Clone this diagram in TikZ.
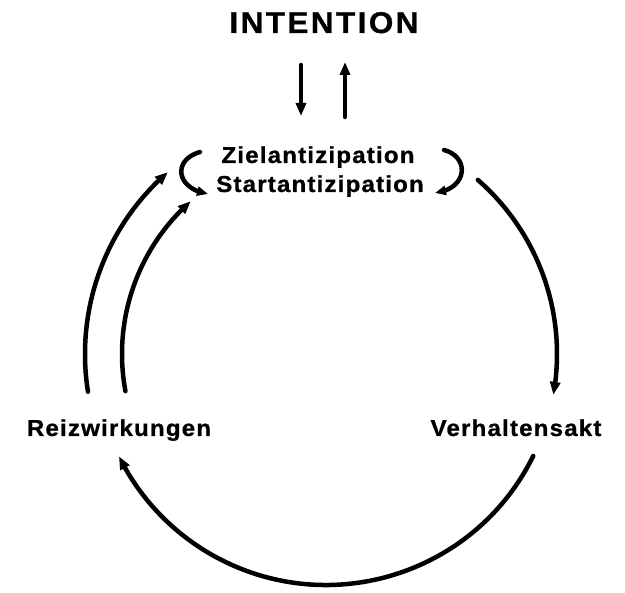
\documentclass[tikz,border=0pt]{standalone}
\usepackage{fontspec}
\setmainfont{Liberation Sans}[FakeStretch=1.05,LetterSpace=5,FakeBold=0.9]
\newfontfamily\titlefont{Liberation Sans}[FakeStretch=1.05,LetterSpace=8,FakeBold=0.9]
\usetikzlibrary{arrows.meta,bending,calc}
\tikzset{
  lbl/.style={font=\bfseries\fontsize{23}{27}\selectfont, inner sep=0pt, anchor=base},
  ttl/.style={font=\titlefont\bfseries\fontsize{30}{34}\selectfont, inner sep=0pt, anchor=base},
  conn/.style={line width=4.5pt, line cap=round, -{Triangle[length=13pt,width=10pt]}},
  curl/.style={line width=4.5pt, line cap=round, -{Triangle[length=11pt,width=9pt]}}
}
\begin{document}
\begin{tikzpicture}[x=1pt,y=1pt]
\useasboundingbox (0,0) rectangle (625,593);
\node[ttl] (intention) at (324,560) {INTENTION};
\node[lbl] (ziel) at (318,430) {Zielantizipation};
\node[lbl] (start) at (320,401) {Startantizipation};
\node[lbl] (verh) at (516,157) {Verhaltensakt};
\node[lbl] (reiz) at (119,157) {Reizwirkungen};
\coordinate (C) at (326,239);
% intention arrows
\coordinate (d1) at (301,528);
\coordinate (d2) at (301,477);
\coordinate (u1) at (345,476);
\coordinate (u2) at (345,531);
\draw[conn] (d1) -- (d2);
\draw[conn] (u1) -- (u2);
% curls
\coordinate (lc1) at (200,441);
\coordinate (lc2) at (208,399);
\draw[curl] (lc1) .. controls (172,433) and (176,404) .. (lc2);
\coordinate (rc1) at (444,443);
\coordinate (rc2) at (435,400);
\draw[curl] (rc1) .. controls (470,436) and (468,404) .. (rc2);
% right arc
\coordinate (ra1) at ($(C)+(48.9:231)$);
\draw[conn] (ra1) arc[start angle=48.9, end angle=-10.2, radius=231];
% bottom arc
\coordinate (ba1) at ($(C)+(-26.2:231)$);
\draw[conn] (ba1) arc[start angle=-26.2, end angle=-153.7, radius=231];
% left arcs
\coordinate (lo1) at ($(C)+(189:241)$);
\draw[conn] (lo1) arc[start angle=189, end angle=131, radius=241];
\coordinate (li1) at ($(C)+(190.5:204)$);
\draw[conn] (li1) arc[start angle=190.5, end angle=131.5, radius=204];
\end{tikzpicture}
\end{document}
